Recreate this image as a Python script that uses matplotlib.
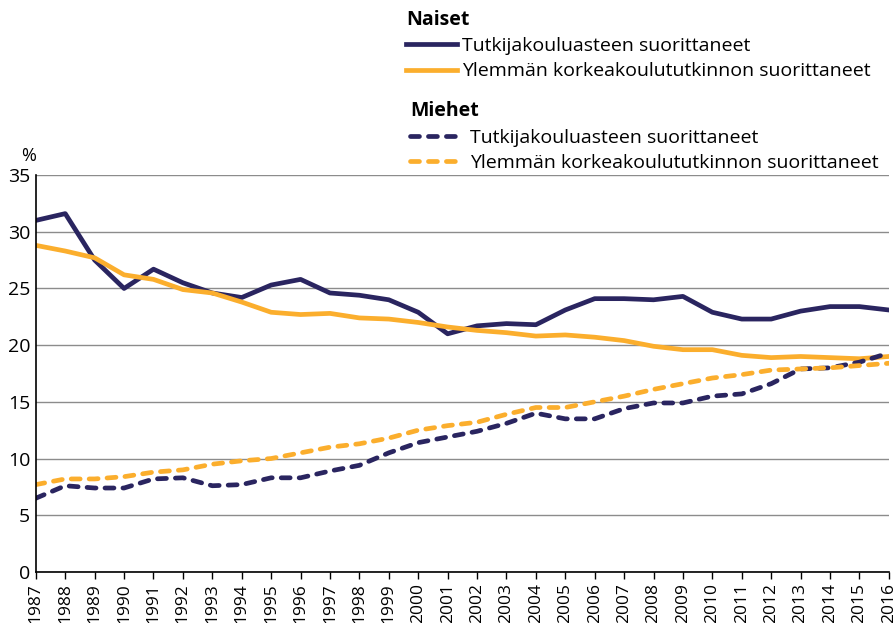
import matplotlib
matplotlib.use('Agg')
import matplotlib.pyplot as plt
import numpy as np

plt.rcParams['font.family'] = ['Open Sans', 'DejaVu Sans']
plt.rcParams['font.size'] = 13

years = list(range(1987, 2017))

# Naiset (women)
women_phd = [31.0, 31.6, 27.5, 25.0, 26.7, 25.5, 24.6, 24.2, 25.3, 25.8,
             24.6, 24.4, 24.0, 22.9, 21.0, 21.7, 21.9, 21.8, 23.1, 24.1,
             24.1, 24.0, 24.3, 22.9, 22.3, 22.3, 23.0, 23.4, 23.4, 23.1]
women_master = [28.8, 28.3, 27.7, 26.2, 25.8, 24.9, 24.6, 23.8, 22.9, 22.7,
                22.8, 22.4, 22.3, 22.0, 21.6, 21.3, 21.1, 20.8, 20.9, 20.7,
                20.4, 19.9, 19.6, 19.6, 19.1, 18.9, 19.0, 18.9, 18.8, 19.0]
# Miehet (men)
men_phd = [6.5, 7.6, 7.4, 7.4, 8.2, 8.3, 7.6, 7.7, 8.3, 8.3,
           8.9, 9.4, 10.5, 11.4, 11.9, 12.4, 13.1, 14.0, 13.5, 13.5,
           14.4, 14.9, 14.9, 15.5, 15.7, 16.6, 17.9, 18.0, 18.5, 19.3]
men_master = [7.7, 8.2, 8.2, 8.4, 8.8, 9.0, 9.5, 9.8, 10.0, 10.5,
              11.0, 11.3, 11.8, 12.5, 12.9, 13.2, 13.9, 14.5, 14.5, 15.0,
              15.5, 16.1, 16.6, 17.1, 17.4, 17.8, 17.9, 18.0, 18.2, 18.4]

label_phd = 'Tutkijakouluasteen suorittaneet'
label_master = 'Ylemmän korkeakoulututkinnon suorittaneet'

NAVY = '#2a2560'
ORANGE = '#fbae2d'

fig = plt.figure(figsize=(8.96, 6.23), dpi=100)
ax = fig.add_axes([0.040, 0.082, 0.952, 0.637])

lw = 3.4
dash = (0, (1.9, 1.9))
l1, = ax.plot(years, women_phd, color=NAVY, lw=lw)
l2, = ax.plot(years, women_master, color=ORANGE, lw=lw)
l3, = ax.plot(years, men_phd, color=NAVY, lw=lw, linestyle=dash, dash_capstyle='round')
l4, = ax.plot(years, men_master, color=ORANGE, lw=lw, linestyle=dash, dash_capstyle='round')

ax.set_xlim(1987, 2016)
ax.set_ylim(0, 35)
ax.set_yticks(range(0, 36, 5))
ax.set_xticks(years)
ax.set_xticklabels([str(y) for y in years], rotation=90)
ax.tick_params(axis='y', length=0, pad=4, labelsize=14)
ax.tick_params(axis='x', length=5, width=1, pad=3, labelsize=12.5)
ax.yaxis.grid(True, color='#8c8c8c', lw=1)
ax.set_axisbelow(True)
for s in ['top', 'right']:
    ax.spines[s].set_visible(False)
ax.spines['left'].set_linewidth(1.2)
ax.spines['bottom'].set_linewidth(1.2)
ax.text(0.0, 1.025, '%', transform=ax.transAxes, ha='right', va='bottom', fontsize=13)

leg1 = fig.legend([l1, l2], [label_phd, label_master], title='Naiset',
                  loc='upper left', bbox_to_anchor=(0.445, 0.997), frameon=False,
                  handlelength=2.6, handletextpad=0.25, labelspacing=0.38,
                  borderaxespad=0, alignment='left', fontsize=14,
                  title_fontproperties={'weight': 'bold', 'size': 14})
leg2 = fig.legend([l3, l4], [label_phd, label_master], title='Miehet',
                  loc='upper left', bbox_to_anchor=(0.449, 0.850), frameon=False,
                  handlelength=2.4, handletextpad=0.7, labelspacing=0.38,
                  borderaxespad=0, alignment='left', fontsize=14,
                  title_fontproperties={'weight': 'bold', 'size': 14})

fig.savefig('out.png', dpi=100)
